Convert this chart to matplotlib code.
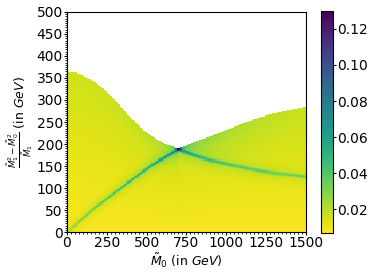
import matplotlib
matplotlib.use("Agg")
import matplotlib.pyplot as plt
from matplotlib.ticker import MultipleLocator
import numpy as np

# ── Data ──
# upper kinematic edge of the populated region
edge_m0 = [0, 80, 200, 300, 400, 500, 600, 700, 800, 900, 1000, 1100, 1200, 1300, 1400, 1500]
edge_y = [364, 360, 335, 300, 260, 225, 203, 189, 205, 218, 232, 246, 260, 270, 278, 285]
# rising ridge (origin -> crossing)
ridge1_m0 = [0, 175, 350, 525, 700]
ridge1_y = [0, 55, 103, 150, 189]
ridge1_amp = [0.015, 0.022, 0.028, 0.034, 0.045]
# falling ridge (crossing -> right edge)
ridge2_m0 = [700, 800, 900, 1000, 1100, 1200, 1300, 1400, 1500]
ridge2_y = [189, 175, 163, 155, 147, 140, 134, 130, 126]
ridge2_amp = [0.045, 0.032, 0.026, 0.023, 0.021, 0.02, 0.019, 0.018, 0.018]
peak = (700, 189, 0.13)
vmin, vmax = 0.007, 0.13

# ── Grid ──
xe = np.arange(0, 1500.1, 10)
ye = np.arange(0, 500.1, 2.5)
xc = 0.5 * (xe[:-1] + xe[1:])
yc = 0.5 * (ye[:-1] + ye[1:])
X, Y = np.meshgrid(xc, yc)

top = np.interp(X, edge_m0, edge_y)
Z = 0.008 + 0.008 * np.clip(Y / top, 0, 1)

r1 = np.interp(X, ridge1_m0, ridge1_y)
a1 = np.interp(X, ridge1_m0, ridge1_amp)
Z += np.where(X <= 700, a1 * np.exp(-0.5 * ((Y - r1) / 2.5) ** 2)
              + 0.25 * a1 * np.exp(-0.5 * ((Y - r1) / 12.0) ** 2), 0)

r2 = np.interp(X, ridge2_m0, ridge2_y)
a2 = np.interp(X, ridge2_m0, ridge2_amp)
Z += np.where(X >= 700, a2 * np.exp(-0.5 * ((Y - r2) / 3.0) ** 2)
              + 0.25 * a2 * np.exp(-0.5 * ((Y - r2) / 14.0) ** 2), 0)

# greenish fan between edge and falling ridge on the right
fan = np.where((X > 700) & (Y > r2), 0.02 * np.exp(-(X - 700) / 300.0) * (Y - r2) / (top - r2 + 1e-9), 0)
Z += np.clip(fan, 0, None)
# slight glow along the left edge near the crossing
Z += np.where(X < 700, 0.012 * np.exp(-(top - Y) / 25.0) * np.exp(-(700 - X) / 200.0), 0)

px, py, pv = peak
Z += (pv - 0.05) * np.exp(-0.5 * (((X - px) / 10.0) ** 2 + ((Y - py) / 2.5) ** 2))

Z = np.ma.masked_where(Y > top, Z)

# ── Plot ──
fig = plt.figure(figsize=(3.74, 2.77), dpi=100)
ax = fig.add_axes([0.179, 0.162, 0.639, 0.795])
cax = fig.add_axes([0.857, 0.159, 0.034, 0.802])

mesh = ax.pcolormesh(xe, ye, Z, cmap="viridis_r", vmin=vmin, vmax=vmax, shading="flat")
ax.set_xlim(0, 1500)
ax.set_ylim(0, 500)
ax.set_xticks([0, 250, 500, 750, 1000, 1250, 1500])
ax.set_yticks(np.arange(0, 501, 50))
ax.xaxis.set_minor_locator(MultipleLocator(25))
ax.yaxis.set_minor_locator(MultipleLocator(5))
ax.tick_params(which="major", labelsize=10, length=2, pad=1)
ax.tick_params(which="minor", length=1.2)
ax.set_xlabel(r"$\tilde{M}_0$ (in $GeV$)", fontsize=9, labelpad=1)
ax.set_ylabel(r"$\frac{\tilde{M}_1^2-\tilde{M}_0^2}{\tilde{M}_1}$ (in $GeV$)", fontsize=9)
ax.yaxis.set_label_coords(-0.135, 0.5)

cb = fig.colorbar(mesh, cax=cax)
cb.set_ticks([0.02, 0.04, 0.06, 0.08, 0.10, 0.12])
cb.ax.tick_params(labelsize=10, length=2, pad=1)

fig.savefig("out.png", dpi=100)
